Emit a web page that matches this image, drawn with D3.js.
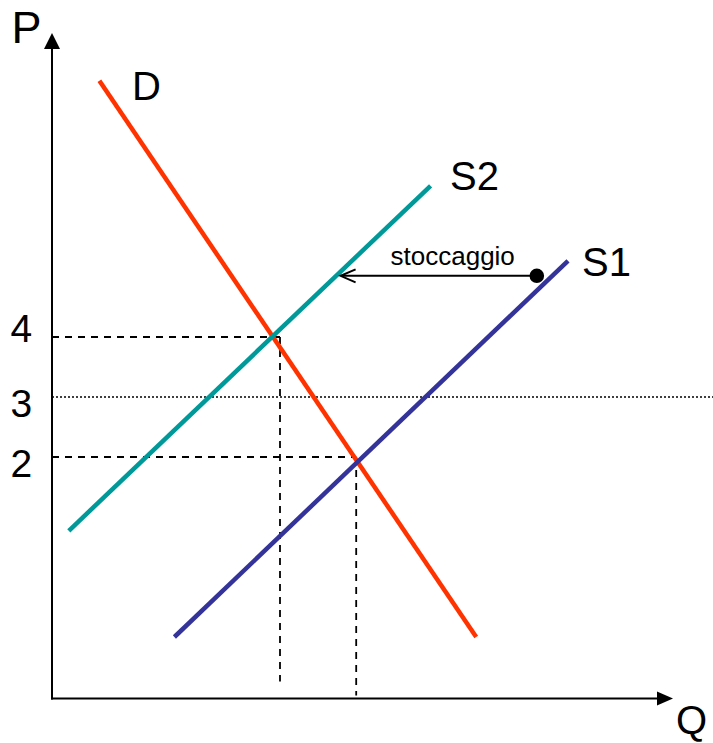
<!DOCTYPE html>
<html>
<head>
<meta charset="utf-8">
<script src="https://cdn.jsdelivr.net/npm/d3@7"></script>
<style>
  html, body { margin: 0; padding: 0; background: #fff; }
  svg { display: block; }
  text { font-family: "Liberation Sans", Arial, Helvetica, sans-serif; fill: #000; }
</style>
</head>
<body>
<svg id="chart" width="713" height="743"></svg>
<script>
// Demand and two supply curves, each given by its two end points (quantity, price)
const demandLine = [[0.79, 8.27], [7.07, -1.0]];
const supply1Line = [[2.04, -1.0], [8.60, 5.27]];
const supply2Line = [[0.28, 0.77], [6.31, 6.52]];

// Equilibria: with storage (S2) and without (S1)
const equilibria = [[3.80, 4], [5.07, 2]];
// Reference price level
const refPrice = 3;
// Price tick labels
const priceTicks = [2, 3, 4];
// Storage shift: from a point on S1 back to S2 at the same price
const storageShift = { fromQ: 8.08, toQ: 4.81, price: 5.02, label: "stoccaggio" };

const curveLabels = ["D", "S1", "S2"];
const axisLabels = ["P", "Q"];

const svg = d3.select("#chart");
const W = 713;

const x = d3.scaleLinear().domain([0, 10]).range([52, 652]);
const y = d3.scaleLinear().domain([-2, 9]).range([697, 37]);

const x0 = x(0), y0 = y(-2) + 1.5;
const line = d3.line().x(d => x(d[0])).y(d => y(d[1]));

// Reference price (dotted) across the full width
svg.append("line")
  .attr("x1", x0).attr("x2", W)
  .attr("y1", y(refPrice)).attr("y2", y(refPrice))
  .attr("stroke", "#000").attr("stroke-width", 1.5)
  .attr("stroke-dasharray", "2,2");

// Dashed guides from each equilibrium to the axes
const guides = svg.append("g")
  .attr("stroke", "#000").attr("stroke-width", 1.8)
  .attr("stroke-dasharray", "7,6").attr("fill", "none");
equilibria.forEach(([q, p], i) => {
  guides.append("line")
    .attr("x1", x0).attr("x2", x(q))
    .attr("y1", y(p)).attr("y2", y(p));
  guides.append("line")
    .attr("x1", x(q)).attr("x2", x(q))
    .attr("y1", y(p)).attr("y2", i === 0 ? y0 - 17 : y0 - 3);
});

// Curves
const curves = [
  { name: "D", pts: demandLine, color: "#ff3300" },
  { name: "S2", pts: supply2Line, color: "#009999" },
  { name: "S1", pts: supply1Line, color: "#333399" }
];
svg.append("g").selectAll("path")
  .data(curves)
  .join("path")
  .attr("d", d => line(d.pts))
  .attr("fill", "none")
  .attr("stroke", d => d.color)
  .attr("stroke-width", 4.5)
  .attr("stroke-linecap", "butt");

// Axes with arrow heads
const axes = svg.append("g");
axes.append("line")
  .attr("x1", x0).attr("x2", x0)
  .attr("y1", y0 + 1).attr("y2", 48)
  .attr("stroke", "#000").attr("stroke-width", 2);
axes.append("path")
  .attr("d", `M${x0},33 L${x0 - 8},49 L${x0 + 8},49 Z`)
  .attr("fill", "#000");
axes.append("line")
  .attr("x1", x0 - 1).attr("x2", 658)
  .attr("y1", y0).attr("y2", y0)
  .attr("stroke", "#000").attr("stroke-width", 2);
axes.append("path")
  .attr("d", `M673,${y0} L657,${y0 - 7} L657,${y0 + 7} Z`)
  .attr("fill", "#000");

// Price tick labels
const tickNudge = { 4: 5 };
svg.append("g").selectAll("text")
  .data(priceTicks)
  .join("text")
  .attr("x", 10.5)
  .attr("y", d => y(d) + (tickNudge[d] !== undefined ? tickNudge[d] : 20))
  .attr("font-size", 39)
  .text(d => d);

// Axis labels
svg.append("text").attr("x", 11.5).attr("y", 43).attr("font-size", 45).text(axisLabels[0]);
svg.append("text").attr("x", 676).attr("y", 734).attr("font-size", 40).text(axisLabels[1]);

// Curve labels
const labelPos = {
  D: { x: 132, y: 100 },
  S2: { x: 450, y: 190 },
  S1: { x: 582, y: 276 }
};
svg.append("g").selectAll("text")
  .data(curveLabels)
  .join("text")
  .attr("x", d => labelPos[d].x)
  .attr("y", d => labelPos[d].y)
  .attr("font-size", 40)
  .text(d => d);

// Storage shift arrow from S1 to S2
const ay = y(storageShift.price);
const tipX = x(storageShift.toQ);
const startX = x(storageShift.fromQ);
svg.append("line")
  .attr("x1", startX).attr("x2", tipX + 1)
  .attr("y1", ay).attr("y2", ay)
  .attr("stroke", "#000").attr("stroke-width", 2);
svg.append("path")
  .attr("d", `M${tipX + 15},${ay - 6.5} L${tipX},${ay} L${tipX + 15},${ay + 6.5}`)
  .attr("fill", "none").attr("stroke", "#000").attr("stroke-width", 2);
svg.append("circle")
  .attr("cx", startX).attr("cy", ay).attr("r", 7.3)
  .attr("fill", "#000");
svg.append("text")
  .attr("x", (startX + tipX) / 2 + 14)
  .attr("y", ay - 10.5)
  .attr("text-anchor", "middle")
  .attr("font-size", 26)
  .text(storageShift.label);
</script>
</body>
</html>
